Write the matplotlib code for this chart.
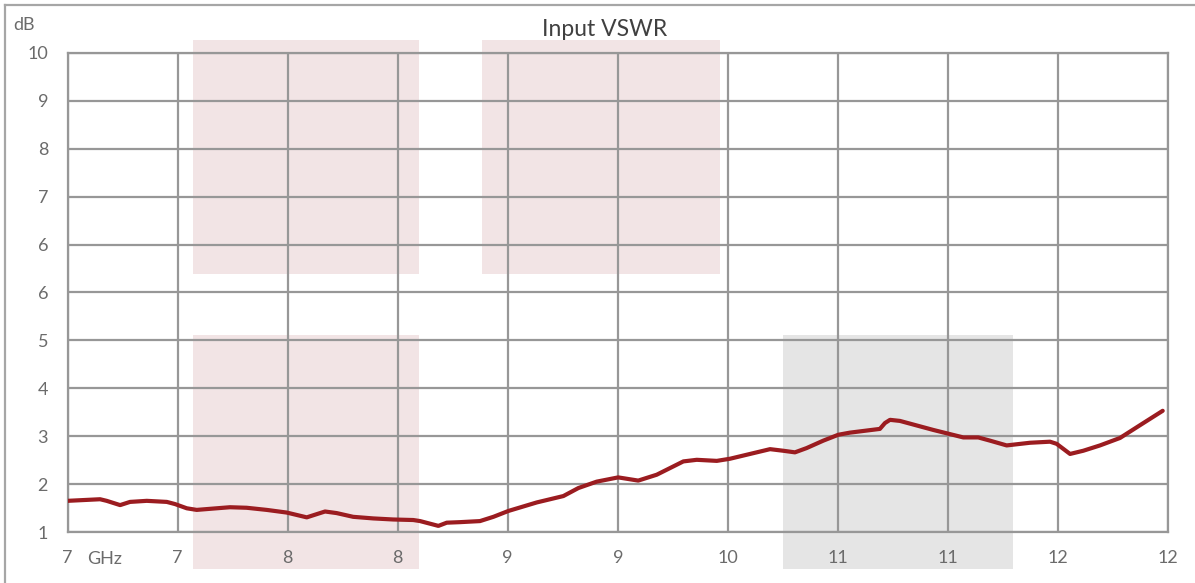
import matplotlib.pyplot as plt
from matplotlib.patches import Rectangle
from matplotlib.lines import Line2D

# frequency (GHz) and input VSWR
freq = [7.00, 7.148, 7.178, 7.239, 7.284, 7.360, 7.451, 7.488, 7.542, 7.587,
        7.647, 7.738, 7.814, 7.905, 7.996, 8.087, 8.117, 8.170, 8.223, 8.298,
        8.389, 8.480, 8.571, 8.602, 8.685, 8.723, 8.783, 8.874, 8.935, 9.003,
        9.132, 9.253, 9.321, 9.404, 9.502, 9.593, 9.677, 9.798, 9.859, 9.950,
        10.010, 10.101, 10.192, 10.252, 10.305, 10.358, 10.434, 10.502, 10.555, 10.691,
        10.714, 10.737, 10.782, 10.934, 11.070, 11.138, 11.191, 11.267, 11.373, 11.464,
        11.494, 11.555, 11.615, 11.691, 11.782, 11.873, 11.976]
vswr = [1.59, 1.62, 1.59, 1.51, 1.57, 1.59, 1.57, 1.53, 1.45, 1.42,
        1.44, 1.47, 1.46, 1.42, 1.37, 1.28, 1.32, 1.39, 1.36, 1.29,
        1.26, 1.24, 1.23, 1.21, 1.12, 1.18, 1.19, 1.21, 1.29, 1.40,
        1.56, 1.68, 1.83, 1.95, 2.03, 1.97, 2.08, 2.33, 2.36, 2.34,
        2.38, 2.47, 2.56, 2.53, 2.50, 2.58, 2.72, 2.83, 2.87, 2.94,
        3.05, 3.11, 3.09, 2.92, 2.78, 2.78, 2.72, 2.63, 2.68, 2.70,
        2.66, 2.47, 2.53, 2.63, 2.77, 3.01, 3.28]

x_ticks = [7.0, 7.5, 8.0, 8.5, 9.0, 9.5, 10.0, 10.5, 11.0, 11.5, 12.0]
x_labels = ['7', '7', '8', '8', '9', '9', '10', '11', '11', '12', '12']
y_ticks = [1.0, 1.9, 2.8, 3.7, 4.6, 5.5, 6.4, 7.3, 8.2, 9.1, 10.0]
y_labels = ['1', '2', '3', '4', '5', '6', '6', '7', '8', '9', '10']

# shaded bands: (x0, x1, y0, y1, colour)
bands = [
    (7.572, 8.598, 5.85, 10.24, '#f2e4e5'),
    (8.885, 9.965, 5.85, 10.24, '#f2e4e5'),
    (7.572, 8.598, 0.31, 4.70, '#f2e4e5'),
    (10.252, 11.296, 0.31, 4.70, '#e5e5e5'),
]

plt.rcParams['font.family'] = ['Lato', 'DejaVu Sans']
grid_c = '#979797'
text_c = '#6b6b6b'

fig = plt.figure(figsize=(11.95, 5.83), dpi=100)
ax = fig.add_axes([0.0565, 0.0870, 0.9209, 0.8226])

for x0, x1, y0, y1, c in bands:
    ax.add_patch(Rectangle((x0, y0), x1 - x0, y1 - y0, facecolor=c,
                           edgecolor='none', clip_on=False, zorder=0.2))

ax.plot(freq, vswr, color='#9b1c20', linewidth=3.0, solid_capstyle='round',
        solid_joinstyle='round', zorder=3)

ax.set_xlim(7, 12)
ax.set_ylim(1, 10)
ax.set_xticks(x_ticks)
ax.set_xticklabels(x_labels)
ax.set_yticks(y_ticks)
ax.set_yticklabels(y_labels)
ax.set_axisbelow(True)
ax.grid(True, color=grid_c, linewidth=1.6)
ax.tick_params(length=0, labelsize=13, labelcolor=text_c)
ax.tick_params(axis='x', pad=13)
ax.tick_params(axis='y', pad=14)
for s in ax.spines.values():
    s.set_color(grid_c)
    s.set_linewidth(1.6)
ax.patch.set_alpha(0)

fig.text(104.5 / 1195, 1 - 559 / 583, 'GHz', ha='center', va='center',
         fontsize=13, color=text_c)
fig.text(24.5 / 1195, 1 - 25 / 583, 'dB', ha='center', va='center',
         fontsize=13, color=text_c)
fig.text(605 / 1195, 1 - 30 / 583, 'Input VSWR', ha='center', va='center',
         fontsize=16.5, color='#404040')

# outer chart frame
fx = 5 / 1195
fy = 1 - 5 / 583
fig.add_artist(Line2D([fx, fx], [0, fy], color='#a6a6a6', linewidth=1.6))
fig.add_artist(Line2D([fx, 1], [fy, fy], color='#a6a6a6', linewidth=1.6))

fig.savefig('out.png', dpi=100)
